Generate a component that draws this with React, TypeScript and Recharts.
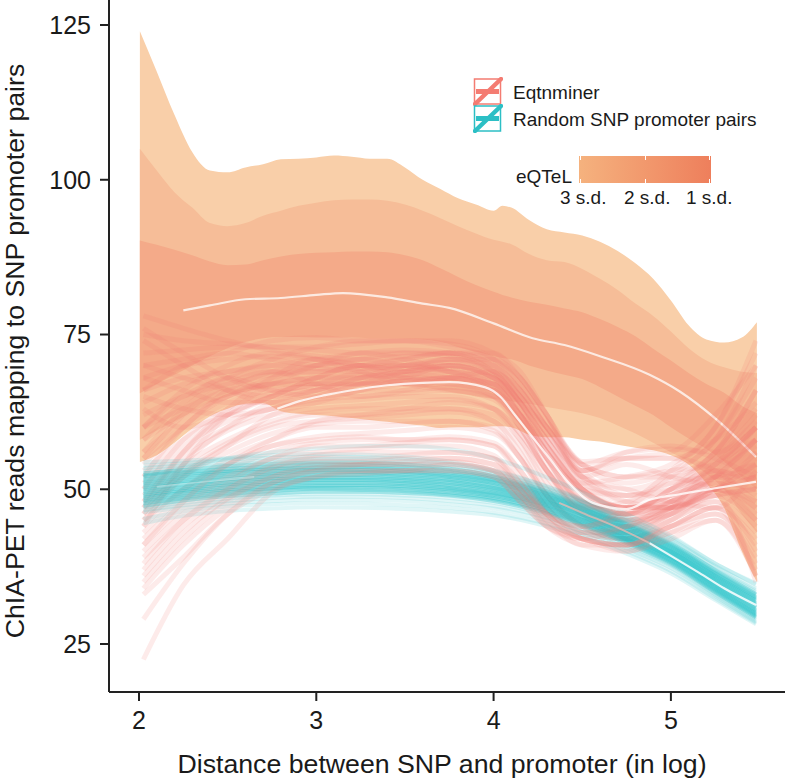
import { Area, ComposedChart, Line, XAxis, YAxis } from "recharts";

const W = 788;
const H = 780;

const xTicks = [2, 3, 4, 5];
const yTicks = [25, 50, 75, 100, 125];

// eQTeL bands
const bandX = [2.005, 2.1, 2.2, 2.3, 2.4, 2.5, 2.6, 2.7, 2.8, 2.9, 3, 3.1, 3.2, 3.3, 3.4, 3.5, 3.6, 3.7, 3.8, 3.9, 4, 4.05, 4.1, 4.2, 4.3, 4.4, 4.5, 4.6, 4.7, 4.8, 4.9, 5, 5.1, 5.2, 5.3, 5.4, 5.485];
const upper3 = [124, 117.5, 110.5, 104.5, 101.5, 101.2, 102, 102.5, 103.3, 103.4, 103.6, 103.9, 103.7, 103.4, 103.4, 102, 100, 98.5, 97, 96, 95, 95.8, 95.5, 93.5, 92, 91.5, 91, 90, 88.5, 86.5, 84, 80.5, 76.5, 74.2, 73.7, 74.5, 77];
const upper2 = [105, 101.5, 98, 95.5, 93, 92.5, 93, 94.2, 95, 95.8, 96.3, 96.7, 96.8, 96.8, 96.6, 96, 95, 93.8, 92.5, 91.3, 90.3, 90, 89.6, 88, 87, 86.7, 85.6, 84, 82.2, 80, 78, 75.5, 72.8, 70.8, 69.7, 69, 68.8];
const upper1 = [90.2, 89.5, 88.7, 87.8, 86.8, 86.2, 86.3, 87, 87.6, 88, 88.2, 88.3, 88.4, 88.4, 88.3, 87.8, 87, 85.7, 84.3, 83, 81.9, 81.4, 81, 80.3, 79.8, 79.2, 78.6, 77.5, 76.2, 74.7, 72.7, 70.8, 68.8, 67, 65.6, 63.5, 62.3];
const lower1 = [65.5, 67, 68.5, 70, 71.5, 72.8, 73.8, 74.4, 74.6, 74.6, 74.5, 74.5, 74.5, 74.4, 74.4, 74.4, 74.2, 73.8, 73, 72.2, 71.5, 71.2, 71, 70, 69.2, 68.5, 67.8, 66.5, 65, 63.5, 62, 60, 58.2, 56.5, 54.5, 52, 50];
const lower2 = [58, 59.5, 61, 62.5, 64, 65, 65.8, 66.2, 66.5, 66.7, 66.7, 66.7, 66.7, 66.8, 66.8, 66.7, 66.5, 66, 65.5, 65, 64.6, 64.4, 64.2, 63.8, 63.3, 62.8, 62.3, 61.5, 60.3, 59, 57.5, 56, 54.5, 52.5, 50, 46, 43];
const lower3 = [54.4, 55.5, 57.5, 59.8, 61.8, 63, 63.8, 63.9, 62.6, 62.2, 62, 61.8, 61.5, 61.2, 60.9, 60.6, 60.3, 59.9, 60, 60, 60.2, 60.2, 60, 58.8, 58.4, 58.4, 58, 57.7, 57.2, 56.7, 56.3, 55.5, 54, 51, 47, 40, 35];

// white mean curves
const meanBandX = [2.25, 2.4, 2.6, 2.8, 3, 3.15, 3.4, 3.6, 3.75, 4, 4.22, 4.4, 4.6, 4.88, 5.05, 5.26, 5.48];
const meanBandY = [78.9, 79.7, 80.7, 80.9, 81.4, 81.7, 81, 80, 79.3, 76.8, 74.4, 73.3, 71.5, 68.5, 65.8, 61.2, 55.2];
const meanRedX = [2.78, 2.9, 3.05, 3.2, 3.4, 3.6, 3.75, 3.95, 4.04, 4.12, 4.22, 4.32, 4.41, 4.56, 4.75, 4.88, 5.05, 5.26, 5.48];
const meanRedY = [63, 64.2, 65.2, 66, 66.8, 67.2, 67.3, 66.5, 64.9, 62, 58.4, 54.8, 51.5, 47.8, 46.8, 48.3, 49.2, 50.2, 51.2];
const meanTealLeftX = [2.1, 2.3, 2.5, 2.65];
const meanTealLeftY = [50.4, 51, 51.6, 52];
const meanTealMidX = [4.37, 4.5, 4.7, 4.88];
const meanTealMidY = [47.8, 46.2, 43.8, 41.3];
const meanTealX = [4.88, 5.05, 5.16, 5.3, 5.48];
const meanTealY = [41.3, 38.4, 36.5, 34, 31.3];

const redX = [2.025, 2.25, 2.5, 2.75, 3, 3.25, 3.5, 3.75, 4, 4.15, 4.3, 4.5, 4.75, 5, 5.25, 5.48];
const redLines = [
  [78, 76, 74, 72.5, 71.5, 71, 71.5, 72, 70, 65, 59, 52, 50, 52, 56, 66],
  [75, 74, 73.5, 73, 73, 73.5, 74, 73.5, 71, 67, 61, 54, 51, 53, 58, 70],
  [72, 72.5, 73, 73, 72.5, 72, 72, 71.5, 69, 64, 58, 51, 49, 50, 55, 62],
  [70, 71, 72, 71, 70, 70, 71, 72, 70, 66, 60, 54, 52, 53, 54, 60],
  [68, 70, 71, 71.5, 71, 70, 69.5, 70, 68, 64, 57, 50, 47, 49, 52, 58],
  [66, 68, 69, 70, 71, 72, 72.5, 72, 69, 65, 59, 52, 48, 50, 53, 57],
  [64, 67, 69, 70, 69.5, 69, 69, 70, 68.5, 64, 57, 50, 46, 48, 51, 55],
  [62, 65, 67, 68.5, 69, 69.5, 70, 70.5, 69, 66, 60, 53, 49, 51, 55, 61],
  [60, 63, 66, 67, 68, 68, 68.5, 69, 67, 62, 55, 48, 46, 48, 52, 54],
  [58, 62, 65, 67, 68, 68.5, 68, 67.5, 66, 62, 56, 50, 47, 49, 53, 58],
  [56, 61, 65, 67, 67, 67, 67.5, 68, 66, 61, 54, 48, 45, 47, 50, 52],
  [55, 60, 64, 66, 66.5, 67, 67, 67, 65, 60, 53, 47, 44, 46, 49, 50],
  [53, 58, 62, 65, 66, 66, 66, 66.5, 65, 61, 55, 50, 47, 48, 52, 56],
  [52, 57, 61, 63, 64.5, 65, 65.5, 66, 64.5, 60, 53, 46, 44, 47, 50, 48],
  [51, 56, 60, 63, 64, 64.5, 65, 65, 63, 58, 51, 46, 45, 48, 52, 53],
  [50, 55, 59.5, 62, 63, 63.5, 64, 64.5, 63, 59, 53, 48, 46, 50, 54, 60],
  [49, 54, 58, 61, 62.5, 63, 63, 63, 62, 58, 52, 46, 43, 46, 50, 47],
  [48, 53, 57.5, 60.5, 62, 62, 62.5, 63, 61, 57, 50, 45, 44, 47, 51, 50],
  [47, 52.5, 57, 60, 61, 61.5, 62, 62.5, 61, 56, 49, 44, 43, 46, 49, 45],
  [46, 52, 56, 59, 60.5, 61, 61, 61, 60, 55, 49, 44, 42, 45, 48, 43],
  [45, 50, 55, 58, 60, 60, 60.5, 61, 59.5, 55, 48, 43, 42, 46, 50, 46],
  [44, 50, 54, 57, 58.5, 59, 59.5, 60, 59, 55, 49, 44, 42, 44, 47, 41],
  [43, 49, 54, 57, 58, 58.5, 58, 58.5, 57.5, 53, 47, 43, 43, 47, 52, 52],
  [42, 48, 53, 56, 57.5, 58, 58, 58, 57, 53, 47, 43, 42, 45, 48, 40],
  [41, 47, 52, 55, 57, 57, 57.5, 58, 57, 52, 46, 42, 41, 44, 46, 38],
  [40, 46, 51, 55, 56, 56.5, 57, 57, 55.5, 51, 46, 42, 41, 43, 45, 37],
  [39, 45, 50, 54, 55.5, 56, 56, 56, 55, 51, 46, 43, 44, 48, 53, 50],
  [38, 45, 50, 53.5, 55, 55, 55.5, 56, 55, 50, 45, 42, 41, 44, 47, 36],
  [37, 44, 49, 53, 54.5, 54.5, 55, 55, 54, 50, 46, 44, 46, 50, 56, 63],
  [36, 43, 48.5, 52, 54, 54, 54, 54.5, 53, 49, 45, 41, 41, 45, 49, 35],
  [35, 42, 48, 52, 53.5, 54, 54, 54, 53, 49, 44, 41, 40, 43, 46, 39],
  [34, 41, 47, 51, 53, 53, 53, 53, 52, 48, 44, 42, 44, 47, 54, 58],
  [33, 39, 46, 50, 52, 52.5, 53, 53, 52, 48, 44, 42, 40, 42, 45, 36],
  [29, 38, 46, 51, 53, 54, 54.5, 55, 54, 50, 46, 44, 47, 52, 58, 68],
  [22.5, 34.5, 42, 49.5, 52, 53, 53, 54, 53, 49, 45, 42, 41, 44, 47, 42],
  [41, 48, 54, 58, 61, 62, 63, 64, 63, 59, 53, 47, 48, 53, 60, 72],
  [45, 52, 57, 62, 64, 66, 67, 68, 66, 62, 57, 51, 52, 54, 60, 74],
  [50, 58, 63, 65.5, 67, 68, 69, 69.5, 68, 65, 60, 53, 55, 56, 62, 70],
  [48, 56, 62, 65, 68, 70, 70, 71, 71, 68, 62, 54.5, 55, 55, 58, 64],
  [54, 60, 66, 69, 70, 71, 72, 72, 71, 67, 61, 54, 52, 52, 56, 66],
  [60, 65, 68, 69, 69, 70, 71, 72, 72, 68, 62, 54, 56, 56.5, 56, 60],
  [56, 63, 68, 71, 73, 74, 74, 73, 71, 68, 62, 53, 55, 55, 53, 48],
  [66, 70, 72, 74, 74.5, 74, 74, 74, 72, 69, 62, 52, 54, 52, 50, 44],
  [46, 54, 60, 64, 66, 67, 67.5, 68, 67, 64, 60, 53, 56, 57, 55, 52],
  [70, 68, 66, 65, 66, 68, 70, 71, 69, 64, 58, 51, 47, 47, 50, 54],
  [58, 64, 68, 66, 65, 66, 68, 70, 68, 63, 56, 49, 46, 48, 50, 52],
  [63, 60, 62, 65, 68, 70, 69, 68, 67, 62, 55, 48, 47, 49, 51, 47],
  [76, 72, 68, 66, 67, 69, 70, 69, 66, 60, 53, 47, 45, 47, 49, 50],
  [74, 70, 66, 64, 65, 67, 68, 68, 67, 63, 57, 50, 47, 47, 52, 58],
  [60, 66, 70, 72, 71, 69, 67, 66, 65, 61, 55, 49, 46, 47, 50, 56],
  [52, 60, 65, 68, 70, 71, 70, 69, 68, 64, 58, 50, 47, 49, 54, 60],
  [68, 66, 64, 64, 66, 68, 69, 70, 68, 63, 55, 48, 46, 50, 53, 51],
  [47, 56, 63, 68, 71, 70, 68, 67, 66, 62, 56, 50, 49, 51, 52, 49],
  [55, 62, 67, 69, 67, 65, 66, 68, 69, 65, 59, 52, 48, 47, 50, 54],
  [65, 63, 62, 63, 65, 67, 69, 71, 70, 66, 60, 52, 50, 48, 47, 53],
  [44, 54, 62, 67, 70, 72, 71, 69, 67, 62, 56, 49, 45, 46, 50, 45],
];

const tealX = [2.025, 2.25, 2.5, 2.75, 3, 3.25, 3.5, 3.75, 4, 4.25, 4.5, 4.75, 5, 5.25, 5.48];
const tealLines = [
  [52, 53.5, 55, 56, 56.6, 57, 57, 56.5, 55, 52.5, 49.5, 46, 42.5, 38, 34.8],
  [54.4, 54.6, 55, 55.5, 55.7, 55.6, 55.3, 54.5, 53.1, 51, 48.4, 45.4, 42.2, 38, 34.6],
  [53.8, 54.2, 54.8, 55.1, 55.3, 55.2, 54.9, 54.2, 52.9, 50.9, 48.2, 45.2, 41.9, 37.6, 34],
  [53.4, 53.9, 54.3, 54.7, 54.9, 54.9, 54.6, 53.9, 52.6, 50.6, 48, 44.9, 41.6, 37.3, 33.7],
  [53, 53.5, 54, 54.4, 54.6, 54.5, 54.2, 53.6, 52.4, 50.3, 47.8, 44.7, 41.4, 37, 33.4],
  [52.6, 53.1, 53.7, 54.1, 54.3, 54.3, 54, 53.3, 52.1, 50.2, 47.5, 44.5, 41.2, 36.9, 33.1],
  [52.3, 52.8, 53.3, 53.7, 54, 53.9, 53.6, 53, 51.9, 49.9, 47.3, 44.3, 41, 36.6, 32.9],
  [52, 52.5, 53, 53.4, 53.6, 53.6, 53.3, 52.7, 51.6, 49.7, 47.1, 44.1, 40.8, 36.4, 32.6],
  [51.6, 52.2, 52.8, 53.2, 53.4, 53.3, 53, 52.4, 51.4, 49.5, 46.9, 43.9, 40.6, 36.2, 32.4],
  [51.3, 51.9, 52.5, 52.9, 53.1, 53.1, 52.8, 52.2, 51.2, 49.3, 46.8, 43.7, 40.4, 36, 32.2],
  [51, 51.6, 52.2, 52.6, 52.9, 52.8, 52.5, 52, 51, 49.1, 46.6, 43.5, 40.2, 35.8, 32],
  [50.7, 51.3, 51.9, 52.4, 52.6, 52.6, 52.3, 51.7, 50.7, 48.9, 46.4, 43.3, 40, 35.6, 31.7],
  [50.4, 51, 51.6, 52.1, 52.3, 52.3, 52, 51.5, 50.5, 48.7, 46.2, 43.1, 39.9, 35.4, 31.5],
  [50.1, 50.8, 51.4, 51.8, 52, 52, 51.8, 51.2, 50.2, 48.5, 46, 43, 39.7, 35.2, 31.3],
  [49.8, 50.5, 51.1, 51.6, 51.8, 51.8, 51.5, 51, 50, 48.3, 45.9, 42.8, 39.5, 35, 31],
  [49.5, 50.2, 50.8, 51.3, 51.5, 51.5, 51.3, 50.7, 49.8, 48.1, 45.6, 42.6, 39.3, 34.8, 30.8],
  [49.2, 49.9, 50.6, 51, 51.3, 51.3, 51, 50.5, 49.5, 47.9, 45.4, 42.4, 39.1, 34.6, 30.5],
  [48.9, 49.7, 50.3, 50.8, 51, 51, 50.8, 50.2, 49.3, 47.7, 45.2, 42.2, 39, 34.4, 30.3],
  [48.6, 49.4, 50, 50.5, 50.7, 50.7, 50.5, 50, 49.1, 47.5, 45, 42, 38.8, 34.2, 30.1],
  [48.3, 49.1, 49.8, 50.2, 50.5, 50.5, 50.3, 49.8, 48.9, 47.3, 44.8, 41.9, 38.6, 34, 29.9],
  [48, 48.8, 49.5, 50, 50.2, 50.2, 50, 49.5, 48.6, 47, 44.6, 41.7, 38.4, 33.8, 29.7],
  [47.7, 48.5, 49.2, 49.7, 50, 49.9, 49.7, 49.2, 48.4, 46.8, 44.4, 41.5, 38.2, 33.6, 29.5],
  [47.3, 48.2, 48.9, 49.3, 49.6, 49.6, 49.4, 49, 48.1, 46.5, 44.2, 41.3, 38, 33.4, 29.3],
  [47, 47.8, 48.5, 49, 49.2, 49.2, 49, 48.6, 47.8, 46.2, 43.9, 41, 37.8, 33.2, 29.1],
  [46.6, 47.4, 48.1, 48.6, 48.8, 48.8, 48.6, 48.1, 47.3, 45.8, 43.6, 40.7, 37.6, 33, 28.9],
  [46.3, 47, 47.7, 48.1, 48.4, 48.3, 48.1, 47.6, 46.9, 45.4, 43.2, 40.4, 37.3, 32.8, 28.6],
  [45.2, 46.4, 47.2, 47.6, 47.8, 47.7, 47.4, 47, 46.2, 44.8, 42.7, 40, 36.8, 32.4, 28.4],
  [44.5, 45.7, 46.5, 46.9, 47.1, 47, 46.8, 46.4, 45.8, 44.4, 42.3, 39.6, 36.4, 32.1, 28.2],
];

const bandRows = bandX.map((x, i) => ({
  x,
  band3: [lower3[i], upper3[i]],
  band2: [lower2[i], upper2[i]],
  band1: [lower1[i], upper1[i]],
}));

const toRows = (xs: number[], ys: number[]) => xs.map((x, i) => ({ x, y: ys[i] }));

const fontFamily = '"Liberation Sans", Arial, sans-serif';
const axisLine = { stroke: "#222", strokeWidth: 2 };
const tickStyle = { fontSize: 25, fill: "#1a1a1a", fontFamily };

function LegendKey({ top, color }: { top: number; color: string }) {
  return (
    <svg width={30} height={29} style={{ position: "absolute", left: 473, top }}>
      <rect x={1.5} y={2} width={26} height={25} fill="#fff" stroke={color} strokeWidth={1.5} />
      <line x1={3} y1={14.5} x2={26} y2={14.5} stroke={color} strokeWidth={5} />
      <line x1={2} y1={27} x2={28} y2={2} stroke={color} strokeWidth={4.5} strokeLinecap="round" />
    </svg>
  );
}

function Label({ left, top, children }: { left: number; top: number; children: string }) {
  return (
    <div style={{ position: "absolute", left, top, fontSize: 19, lineHeight: "20px", color: "#1a1a1a", whiteSpace: "nowrap", fontFamily }}>
      {children}
    </div>
  );
}

export default function App() {
  return (
    <div style={{ position: "fixed", left: 0, top: 0, width: W, height: H, background: "#fff", overflow: "hidden" }}>
      <ComposedChart width={W} height={H} data={bandRows} margin={{ top: 0, right: 3, bottom: 0, left: 0 }}>
        <XAxis
          type="number"
          dataKey="x"
          domain={[1.8308, 5.6436]}
          ticks={xTicks}
          height={88}
          axisLine={axisLine}
          tickLine={axisLine}
          tickSize={9}
          tickMargin={10}
          tick={tickStyle}
          label={{ value: "Distance between SNP and promoter (in log)", position: "insideBottom", offset: 7, dx: -5, style: { fontSize: 26.7, fill: "#1a1a1a", fontFamily } }}
        />
        <YAxis
          type="number"
          domain={[17.25, 129.04]}
          ticks={yTicks}
          width={109}
          axisLine={axisLine}
          tickLine={axisLine}
          tickSize={9}
          tickMargin={9}
          tick={tickStyle}
        />
        <Area dataKey="band3" type="monotone" fill="#F9CFA9" fillOpacity={1} stroke="none" isAnimationActive={false} />
        <Area dataKey="band2" type="monotone" fill="#F6BD98" fillOpacity={1} stroke="none" isAnimationActive={false} />
        <Area dataKey="band1" type="monotone" fill="#F4AA89" fillOpacity={1} stroke="none" isAnimationActive={false} />
        <Line data={toRows(meanBandX, meanBandY)} dataKey="y" type="monotone" stroke="#fff" strokeOpacity={0.75} strokeWidth={2.2} dot={false} isAnimationActive={false} />
        {redLines.filter((ys) => ys[0] >= 42).map((ys, i) => (
          <Line key={`red-${i}`} data={toRows(redX, ys)} dataKey="y" type="monotone" stroke="#F37C72" strokeOpacity={0.15} strokeWidth={5} dot={false} isAnimationActive={false} />
        ))}
        {tealLines.map((ys, i) => (
          <Line key={`teal-${i}`} data={toRows(tealX, ys)} dataKey="y" type="monotone" stroke="#12BCC4" strokeOpacity={i >= 5 && i <= 22 ? 0.3 : 0.13} strokeWidth={4} dot={false} isAnimationActive={false} />
        ))}
        {/* low starters stay visible across the teal */}
        {redLines.filter((ys) => ys[0] < 42).map((ys, i) => (
          <Line key={`low-${i}`} data={toRows(redX, ys)} dataKey="y" type="monotone" stroke="#F37C72" strokeOpacity={0.15} strokeWidth={5} dot={false} isAnimationActive={false} />
        ))}
        <Line data={toRows(meanRedX, meanRedY)} dataKey="y" type="monotone" stroke="#fff" strokeOpacity={0.8} strokeWidth={2.2} dot={false} isAnimationActive={false} />
        <Line data={toRows(meanTealLeftX, meanTealLeftY)} dataKey="y" type="monotone" stroke="#fff" strokeOpacity={0.3} strokeWidth={2} dot={false} isAnimationActive={false} />
        <Line data={toRows(meanTealMidX, meanTealMidY)} dataKey="y" type="monotone" stroke="#F6B9B0" strokeOpacity={0.7} strokeWidth={2} dot={false} isAnimationActive={false} />
        <Line data={toRows(meanTealX, meanTealY)} dataKey="y" type="monotone" stroke="#fff" strokeOpacity={0.85} strokeWidth={2.2} dot={false} isAnimationActive={false} />
      </ComposedChart>

      <div style={{ position: "absolute", left: 15, top: 351, transform: "translate(-50%, -50%) rotate(-90deg)", fontSize: 26.7, color: "#1a1a1a", whiteSpace: "nowrap", fontFamily }}>
        ChIA-PET reads mapping to SNP promoter pairs
      </div>

      <LegendKey top={77} color="#F47C72" />
      <LegendKey top={104} color="#2CBFC5" />
      <Label left={513} top={83}>Eqtnminer</Label>
      <Label left={513} top={110}>Random SNP promoter pairs</Label>
      <Label left={516} top={167}>eQTeL</Label>
      <Label left={560} top={188}>3 s.d.</Label>
      <Label left={624} top={188}>2 s.d.</Label>
      <Label left={686} top={188}>1 s.d.</Label>
      <div style={{ position: "absolute", left: 579, top: 156, width: 132, height: 27, background: "linear-gradient(to right, #F5B27E, #EE7F5C)" }}>
        <div style={{ position: "absolute", left: 1, top: 0, width: 1, height: 4, background: "#fff" }} />
        <div style={{ position: "absolute", left: 1, bottom: 0, width: 1, height: 4, background: "#fff" }} />
        <div style={{ position: "absolute", left: 66, top: 0, width: 1, height: 4, background: "#fff" }} />
        <div style={{ position: "absolute", left: 66, bottom: 0, width: 1, height: 4, background: "#fff" }} />
        <div style={{ position: "absolute", left: 130, top: 0, width: 1, height: 4, background: "#fff" }} />
        <div style={{ position: "absolute", left: 130, bottom: 0, width: 1, height: 4, background: "#fff" }} />
      </div>
    </div>
  );
}
